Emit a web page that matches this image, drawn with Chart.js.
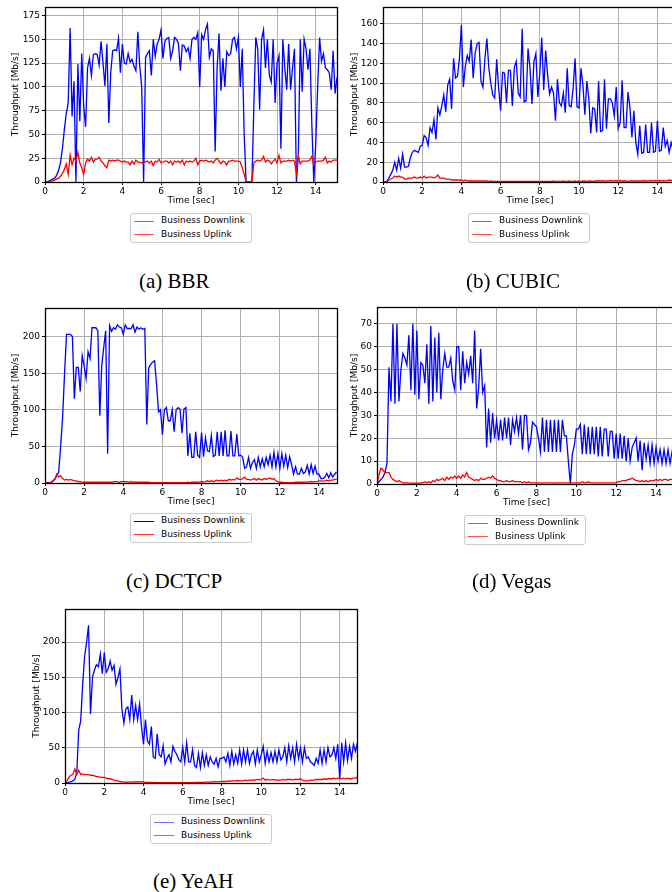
<!DOCTYPE html>
<html>
<head>
<meta charset="utf-8">
<script src="https://cdn.jsdelivr.net/npm/chart.js@4.4.1/dist/chart.umd.min.js"></script>
<style>
  body { margin: 0; width: 672px; height: 892px; overflow: hidden; background: #fff; position: relative; font-family: 'DejaVu Sans', sans-serif; }
  canvas { position: absolute; }
  .legend { position: absolute; width: 122px; height: 30px; border: 1px solid #cccccc; border-radius: 3px; box-sizing: border-box; background: #fff; font-size: 9px; color: #000; }
  .legend .sw { position: absolute; left: 3px; width: 20px; height: 0; border-top: 1.3px solid; }
  .legend .lb { position: absolute; left: 30px; line-height: 11px; white-space: nowrap; }
  .caption { position: absolute; font-family: 'Liberation Serif', serif; font-size: 21px; line-height: 22px; color: #000; white-space: nowrap; }
</style>
</head>
<body>
<script>
// sample times (sec)
const timeSec = [
  0, 0.1, 0.2, 0.3, 0.4, 0.5, 0.6, 0.7, 0.8, 0.9,
  1, 1.1, 1.2, 1.3, 1.4, 1.5, 1.6, 1.7, 1.8, 1.9,
  2, 2.1, 2.2, 2.3, 2.4, 2.5, 2.6, 2.7, 2.8, 2.9,
  3, 3.1, 3.2, 3.3, 3.4, 3.5, 3.6, 3.7, 3.8, 3.9,
  4, 4.1, 4.2, 4.3, 4.4, 4.5, 4.6, 4.7, 4.8, 4.9,
  5, 5.1, 5.2, 5.3, 5.4, 5.5, 5.6, 5.7, 5.8, 5.9,
  6, 6.1, 6.2, 6.3, 6.4, 6.5, 6.6, 6.7, 6.8, 6.9,
  7, 7.1, 7.2, 7.3, 7.4, 7.5, 7.6, 7.7, 7.8, 7.9,
  8, 8.1, 8.2, 8.3, 8.4, 8.5, 8.6, 8.7, 8.8, 8.9,
  9, 9.1, 9.2, 9.3, 9.4, 9.5, 9.6, 9.7, 9.8, 9.9,
  10, 10.1, 10.2, 10.3, 10.4, 10.5, 10.6, 10.7, 10.8, 10.9,
  11, 11.1, 11.2, 11.3, 11.4, 11.5, 11.6, 11.7, 11.8, 11.9,
  12, 12.1, 12.2, 12.3, 12.4, 12.5, 12.6, 12.7, 12.8, 12.9,
  13, 13.1, 13.2, 13.3, 13.4, 13.5, 13.6, 13.7, 13.8, 13.9,
  14, 14.1, 14.2, 14.3, 14.4, 14.5, 14.6, 14.7, 14.8, 14.9,
  15, 15.1
];

const xTicks = [0, 2, 4, 6, 8, 10, 12, 14];
const seriesNames = ['Business Downlink', 'Business Uplink'];

// (a) BBR  [Mb/s]
const bbrDown = [
  0, 0, 1, 2, 3, 4, 7, 12, 20, 35,
  55, 72, 83, 162, 69, 106, 0, 124, 64, 135,
  80, 58, 120, 130, 112, 134, 135, 134, 123, 148,
  125, 101, 145, 62, 115, 138, 139, 138, 151, 115,
  145, 125, 124, 135, 126, 129, 122, 117, 158, 122,
  100, 0, 131, 135, 138, 112, 150, 132, 145, 150,
  160, 130, 148, 151, 152, 130, 138, 152, 150, 146,
  117, 144, 143, 137, 141, 130, 150, 152, 150, 157,
  100, 155, 150, 160, 166, 131, 140, 138, 32, 120,
  156, 96, 130, 100, 137, 133, 135, 150, 152, 140,
  152, 100, 140, 50, 0, 0, 0, 0, 80, 152,
  140, 76, 150, 160, 120, 150, 112, 105, 150, 83,
  125, 133, 35, 150, 120, 97, 145, 97, 120, 140,
  0, 28, 150, 95, 150, 140, 118, 140, 60, 0,
  40, 100, 152, 127, 135, 120, 118, 115, 97, 138,
  93, 110
];
const bbrUp = [
  0, 0, 0, 1, 1, 2, 3, 4, 6, 9,
  13, 19, 8, 28, 18, 25, 22, 31, 20, 15,
  8, 20, 24, 22, 26, 21, 24, 24, 26, 22,
  20, 17, 15, 23, 22, 23, 22, 23, 23, 22,
  21, 22, 21, 21, 18, 22, 19, 23, 21, 21,
  20, 22, 21, 22, 20, 22, 17, 22, 21, 24,
  20, 21, 22, 22, 20, 22, 18, 22, 21, 22,
  20, 23, 18, 22, 21, 22, 21, 22, 25, 18,
  22, 23, 22, 23, 22, 21, 22, 20, 23, 25,
  22, 19, 22, 21, 18, 22, 22, 23, 22, 22,
  22, 21, 15, 8, 0, 0, 0, 0, 20, 22,
  23, 22, 23, 27, 21, 23, 22, 19, 22, 24,
  20, 28, 20, 22, 22, 22, 23, 22, 23, 22,
  9, 28, 19, 22, 22, 22, 22, 23, 27, 18,
  21, 22, 22, 22, 23, 26, 20, 22, 21, 23,
  23, 23
];

// (b) CUBIC
const cubicDown = [
  0, 0, 1, 4, 8, 12, 20, 12, 24, 14,
  28, 15, 15, 16, 25, 30, 32, 31, 30, 36,
  37, 47, 45, 37, 55, 50, 63, 43, 75, 68,
  77, 88, 71, 98, 104, 74, 125, 105, 107, 125,
  159, 96, 117, 128, 122, 144, 105, 130, 140, 141,
  102, 96, 125, 145, 115, 100, 88, 85, 124, 95,
  72, 111, 110, 80, 113, 113, 77, 116, 122, 90,
  86, 155, 81, 82, 135, 115, 79, 122, 130, 86,
  110, 146, 93, 133, 108, 89, 96, 90, 62, 104,
  80, 77, 90, 70, 115, 77, 76, 95, 125, 76,
  75, 115, 98, 68, 102, 85, 49, 75, 74, 50,
  102, 51, 52, 104, 54, 84, 84, 80, 67, 96,
  54, 60, 103, 55, 55, 91, 75, 45, 72, 40,
  28, 57, 29, 30, 58, 30, 30, 60, 30, 31,
  62, 31, 32, 55, 36, 42, 30, 40, 33, 38,
  35
];
const cubicUp = [
  0, 0, 0, 2, 3, 4, 6, 5, 6, 5,
  5, 3, 3, 4, 4, 4, 5, 4, 4, 5,
  4, 6, 4, 5, 5, 5, 4, 5, 7, 4,
  4, 4, 3, 3, 3, 2, 2, 2, 2, 2,
  2, 1, 2, 1, 1, 1, 1, 1, 1, 1,
  1, 1, 1, 1, 0.5, 1, 0.5, 0.5, 0.5, 0.5,
  0.5, 0.5, 0.5, 0.5, 0.5, 0.5, 0.5, 0.5, 0.5, 0.5,
  0.5, 0.5, 0.5, 0.5, 0.5, 0.5, 0.5, 0.5, 0.5, 0.5,
  0.5, 0.5, 0.5, 0.5, 0.5, 0.5, 0.5, 1, 0.5, 0.5,
  0.5, 0.5, 1, 0.5, 0.5, 1, 0.5, 0.5, 1, 0.5,
  1, 0.5, 1, 1, 0.5, 1, 1, 0.5, 1, 1,
  1, 1, 1.5, 1, 1, 1, 1.5, 1, 1, 1.5,
  1, 1.5, 1, 1, 1, 0.5, 1, 1, 1, 1,
  1, 1, 1, 1.5, 1, 1, 1, 1.5, 1, 1.5,
  1, 1.5, 1, 1.5, 1, 1.5, 2, 1.5, 2, 2,
  2
];

// (c) DCTCP
const dctcpDown = [
  0, 0, 0, 0, 3, 5, 10, 15, 50, 90,
  150, 203, 203, 203, 200, 115, 158, 158, 125, 174,
  160, 143, 179, 170, 212, 212, 212, 208, 92, 160,
  185, 208, 40, 215, 207, 212, 210, 216, 213, 212,
  203, 216, 211, 211, 211, 216, 206, 213, 210, 212,
  210, 211, 80, 157, 162, 165, 167, 135, 97, 100,
  66, 100, 103, 85, 85, 100, 70, 100, 103, 101,
  68, 101, 103, 37, 68, 35, 35, 70, 38, 35,
  69, 36, 62, 44, 43, 65, 36, 38, 70, 37,
  70, 37, 72, 37, 37, 71, 37, 37, 67, 37,
  38, 35, 20, 22, 35, 20, 28, 32, 20, 35,
  22, 33, 22, 35, 25, 38, 22, 42, 22, 40,
  20, 40, 23, 38, 21, 36, 25, 12, 22, 12,
  12, 20, 13, 15, 24, 12, 25, 13, 23, 12,
  12, 6, 6, 8, 13, 7, 14, 8, 12, 15
];
const dctcpUp = [
  0, 0, 0, 1, 2, 5, 12, 8, 10, 6,
  4, 5, 4, 5, 4, 3, 3, 2, 2, 1,
  1, 1, 1, 1, 1, 1, 1, 1, 1, 1,
  1, 1, 1, 1, 1, 2, 2, 2, 1, 2,
  2, 2, 2, 1, 2, 1, 1, 1, 1, 1,
  1, 1, 1, 1, 0.5, 0.5, 0.5, 0.5, 0.5, 0.5,
  0.5, 0.5, 0.5, 0.5, 0.5, 0.5, 0.5, 0.5, 0.5, 0.5,
  0.5, 0.5, 0.5, 1, 0.5, 1, 1, 1, 1, 1.5,
  2, 1.5, 2, 3, 2, 3, 2, 3, 4, 3,
  4, 3, 4, 3, 5, 4, 5, 4, 7, 5,
  5, 6, 8, 5, 5, 4, 5, 6, 4, 6,
  5, 4, 6, 5, 6, 7, 5, 6, 3, 2,
  1, 1, 0.5, 0.5, 0.5, 0.5, 0.5, 0.5, 1, 1,
  1, 1, 1, 1.5, 1, 1.5, 2, 1.5, 2, 2,
  3, 3, 2.5, 3, 4, 3, 4, 4, 5, 5
];

// (d) Vegas
const vegasDown = [
  0, 1, 2, 3, 5, 9, 51, 36, 70, 35,
  70, 36, 50, 57, 55, 52, 65, 41, 70, 39,
  67, 37, 53, 52, 44, 61, 35, 69, 36, 64,
  40, 66, 37, 50, 57, 51, 51, 55, 45, 41,
  60, 60, 41, 58, 44, 53, 48, 56, 44, 67,
  33, 42, 59, 40, 43, 16, 33, 18, 31, 20,
  28, 19, 28, 19, 29, 20, 29, 17, 28, 23,
  29, 22, 30, 15, 30, 30, 15, 18, 27, 26,
  25, 20, 14, 29, 14, 28, 14, 28, 14, 28,
  14, 28, 14, 28, 21, 21, 10, 0, 13, 17,
  24, 24, 26, 13, 26, 13, 25, 13, 25, 13,
  25, 12, 25, 12, 24, 24, 12, 23, 23, 11,
  22, 11, 22, 11, 21, 10, 20, 10, 16, 18,
  20, 10, 19, 6, 18, 11, 17, 9, 17, 9,
  16, 10, 15, 9, 15, 9, 15, 9, 14, 9,
  12
];
const vegasUp = [
  0, 4, 7, 6, 5, 5, 5, 3, 2, 1.5,
  1, 1.5, 1, 0.5, 0.5, 0.5, 0.5, 0.3, 0.5, 0.3,
  0.5, 0.3, 0.5, 0.5, 1, 0.5, 1, 0.5, 1.5, 1,
  2, 1.5, 2, 2.5, 1.5, 3, 2, 3, 2.5, 3.5,
  2.5, 3.5, 2.5, 4, 3, 5, 3, 2.5, 2, 1.5,
  2, 1.5, 2.5, 2, 2, 2.5, 3, 2.5, 3.5, 2.5,
  2, 1.5, 1.5, 1, 1, 1.5, 1, 1, 1.5, 1,
  1, 1, 1, 0.5, 1, 0.5, 1, 0.5, 0.5, 0.5,
  0.5, 0.5, 0.5, 0.3, 0.5, 0.5, 0.5, 0.5, 0.5, 0.3,
  0.5, 0.5, 0.5, 0.5, 0.5, 0.5, 0.5, 0.5, 0.5, 0.5,
  0.5, 0.5, 0.5, 1, 0.5, 0.5, 1, 0.5, 0.5, 0.5,
  0.5, 0.5, 0.5, 0.5, 0.5, 0.5, 0.5, 0.5, 0.5, 0.5,
  0.5, 1, 1, 1.5, 1.5, 1.5, 2, 2, 2.5, 2,
  1.5, 1.5, 1, 1.5, 1, 1.5, 1, 1.5, 1.5, 1.5,
  2, 1.5, 2, 1.5, 2, 2, 1.5, 2, 2, 2,
  2
];

// (e) YeAH
const yeahDown = [
  0, 0, 1, 2, 3, 5, 15, 75, 88, 140,
  180, 200, 224, 98, 150, 160, 168, 165, 183, 155,
  185, 157, 162, 173, 160, 167, 140, 150, 162, 105,
  85, 105, 108, 90, 125, 90, 110, 90, 112, 80,
  55, 90, 60, 55, 80, 37, 35, 70, 40, 37,
  53, 27, 35, 40, 30, 52, 45, 40, 33, 30,
  51, 30, 57, 30, 30, 47, 25, 22, 42, 22,
  43, 25, 40, 25, 37, 30, 27, 35, 23, 35,
  35, 37, 30, 42, 25, 45, 27, 40, 28, 47,
  27, 47, 30, 47, 28, 40, 45, 27, 47, 30,
  40, 52, 28, 45, 30, 43, 30, 45, 30, 47,
  33, 37, 50, 30, 53, 35, 50, 30, 55, 35,
  50, 30, 50, 35, 37, 30, 28, 25, 35, 28,
  47, 28, 47, 30, 50, 37, 40, 50, 35, 55,
  5, 57, 30, 57, 32, 52, 35, 55, 45, 57
];
const yeahUp = [
  0, 3, 8, 11, 12, 20, 12, 18, 12, 13,
  12, 12, 12, 11, 11, 10, 9, 9, 8, 8,
  8, 7, 6, 6, 5, 4, 3, 3, 2, 2,
  1, 1.5, 1, 2, 1, 2, 1.5, 2, 1.5, 2,
  1.5, 1, 1, 1, 1, 0.5, 1, 0.5, 0.5, 0.5,
  0.5, 0.5, 0.5, 0.5, 0.3, 0.5, 0.5, 0.3, 0.5, 0.5,
  0.5, 0.5, 0.5, 0.5, 0.5, 1, 0.5, 1, 1, 1,
  1, 1, 1.5, 1, 1.5, 1.5, 2, 1.5, 2, 2,
  2, 2.5, 2, 3, 2.5, 3, 3, 3, 3.5, 3,
  3, 3.5, 4, 3.5, 4, 4, 4.5, 4, 5, 4.5,
  5, 7, 4, 5, 4.5, 4, 5, 4, 4.5, 4,
  4, 5, 4, 5, 5, 5, 4, 5, 5, 5,
  6, 4, 3, 3, 3, 4, 4, 4, 5, 5,
  5, 5, 6, 5, 6, 6, 6, 7, 6, 7,
  7, 6, 7, 6, 7, 6, 6, 7, 7, 8
];

Chart.defaults.font.family = "'DejaVu Sans', sans-serif";
Chart.defaults.font.size = 9;
Chart.defaults.color = '#000';

// black frame round the plot area, like matplotlib spines
const framePlugin = {
  id: 'frame',
  afterDraw(chart) {
    const { ctx, chartArea: a } = chart;
    ctx.save();
    ctx.strokeStyle = '#000';
    ctx.lineWidth = 1.3;
    ctx.strokeRect(Math.round(a.left) + 0.5, Math.round(a.top) + 0.5,
      Math.round(a.right) - Math.round(a.left), Math.round(a.bottom) - Math.round(a.top));
    ctx.restore();
  }
};

const Y_AXIS_W = 45, X_AXIS_H = 24, PAD_TOP = 10, PAD_RIGHT = 4;

// plot-area boxes in page pixels, legend spots, captions
const panels = [
  { down: bbrDown, up: bbrUp, area: [45, 7, 337, 182], xMax: 15.1, yMax: 184, yStep: 25, titleOff: 29,
    legend: [130, 213], faded: true, caption: '(a) BBR', capPos: [139, 270] },
  { down: cubicDown, up: cubicUp, area: [383, 7, 677, 182], xMax: 15.0, yMax: 177, yStep: 20, titleOff: 28,
    legend: [468, 213], faded: true, caption: '(b) CUBIC', capPos: [466, 270] },
  { down: dctcpDown, up: dctcpUp, area: [45, 308, 337, 483], xMax: 14.92, yMax: 239, yStep: 50, titleOff: 29,
    legend: [130, 513], faded: false, caption: '(c) DCTCP', capPos: [126, 570] },
  { down: vegasDown, up: vegasUp, area: [377, 307, 676, 484], xMax: 15.0, yMax: 77.3, yStep: 10, titleOff: 22,
    legend: [464, 515], faded: true, caption: '(d) Vegas', capPos: [472, 570] },
  { down: yeahDown, up: yeahUp, area: [65, 609, 357, 783], xMax: 14.88, yMax: 247, yStep: 50, titleOff: 28,
    legend: [150, 814], faded: true, caption: '(e) YeAH', capPos: [153, 870] }
];

function toPoints(vals) {
  return vals.map((v, i) => ({ x: timeSec[i], y: v }));
}

panels.forEach(p => {
  const [l, t, r, b] = p.area;
  const cv = document.createElement('canvas');
  const w = r - l + Y_AXIS_W + PAD_RIGHT;
  const h = b - t + PAD_TOP + X_AXIS_H;
  cv.width = w; cv.height = h;
  cv.style.left = (l - Y_AXIS_W) + 'px';
  cv.style.top = (t - PAD_TOP) + 'px';
  cv.style.width = w + 'px'; cv.style.height = h + 'px';
  document.body.appendChild(cv);

  new Chart(cv, {
    type: 'line',
    data: {
      datasets: [
        { label: seriesNames[0], data: toPoints(p.down), borderColor: '#0000ff', borderWidth: 1.3, order: 1 },
        { label: seriesNames[1], data: toPoints(p.up), borderColor: '#ff0000', borderWidth: 1.3, order: 0 }
      ]
    },
    options: {
      responsive: false,
      animation: false,
      parsing: false,
      normalized: true,
      elements: { point: { radius: 0 }, line: { tension: 0 } },
      layout: { padding: { top: PAD_TOP, right: PAD_RIGHT, left: 0, bottom: 0 } },
      plugins: { legend: { display: false }, tooltip: { enabled: false } },
      scales: {
        x: {
          type: 'linear', min: 0, max: p.xMax,
          afterFit(s) { s.height = X_AXIS_H; },
          afterBuildTicks(s) { s.ticks = xTicks.map(v => ({ value: v })); },
          grid: { color: '#b0b0b0', lineWidth: 1, tickLength: 3, tickColor: '#000' },
          border: { display: false },
          ticks: { padding: 1, maxRotation: 0, autoSkip: false, color: '#000' },
          title: { display: true, text: 'Time [sec]', padding: { top: 0, bottom: 0 }, font: { size: 9 }, color: '#000' }
        },
        y: {
          min: 0, max: p.yMax,
          afterFit(s) { s.width = Y_AXIS_W; },
          grid: { color: '#b0b0b0', lineWidth: 1, tickLength: 3, tickColor: '#000' },
          border: { display: false },
          ticks: { stepSize: p.yStep, includeBounds: false, padding: 2, color: '#000' },
          title: { display: true, text: 'Throughput [Mb/s]', padding: { top: Y_AXIS_W - p.titleOff - 5.4, bottom: 0 }, font: { size: 9 }, color: '#000' }
        }
      }
    },
    plugins: [framePlugin]
  });

  // legend box
  const lg = document.createElement('div');
  lg.className = 'legend';
  lg.style.left = p.legend[0] + 'px';
  lg.style.top = p.legend[1] + 'px';
  const cols = p.faded ? ['#7070ff', '#ff5050'] : ['#0000aa', '#ff3030'];
  [7.5, 21].forEach((cy, k) => {
    const sw = document.createElement('div');
    sw.className = 'sw';
    sw.style.top = (cy - 1) + 'px';
    sw.style.borderTopColor = cols[k];
    const lb = document.createElement('div');
    lb.className = 'lb';
    lb.style.top = (cy - 6.5) + 'px';
    lb.textContent = seriesNames[k];
    lg.appendChild(sw);
    lg.appendChild(lb);
  });
  document.body.appendChild(lg);

  const cap = document.createElement('div');
  cap.className = 'caption';
  cap.style.left = p.capPos[0] + 'px';
  cap.style.top = p.capPos[1] + 'px';
  cap.textContent = p.caption;
  document.body.appendChild(cap);
});
</script>
</body>
</html>
